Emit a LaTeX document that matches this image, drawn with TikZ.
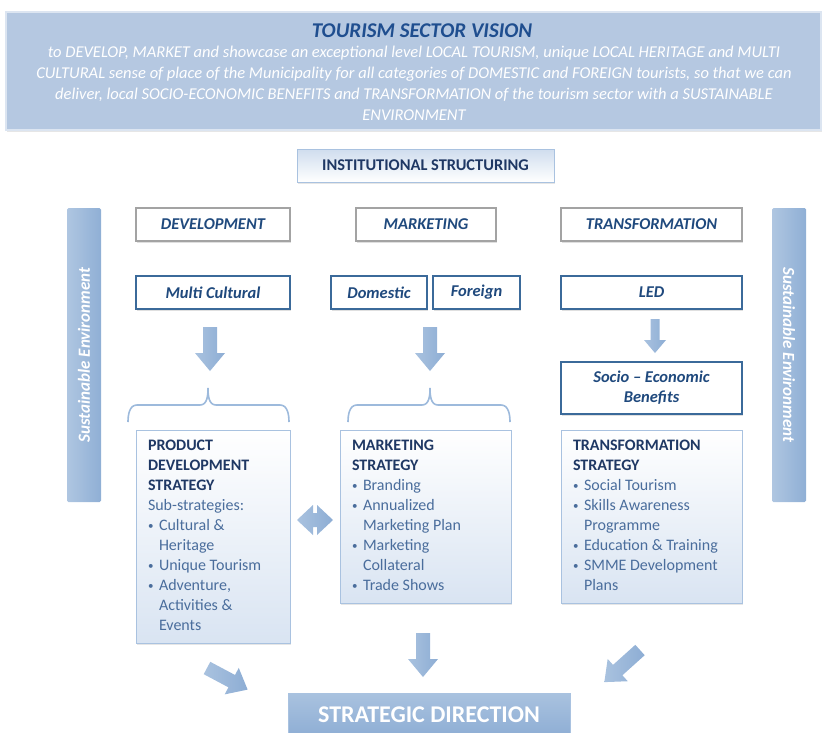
\documentclass[tikz,border=0pt]{standalone}
\usepackage{fontspec}
\setmainfont{Carlito}
\usetikzlibrary{shadows}
\definecolor{visfill}{HTML}{B5C8E1}
\definecolor{visedge}{HTML}{DCE5F1}
\definecolor{titleblue}{HTML}{1F4E8F}
\definecolor{lblue}{HTML}{1F497D}
\definecolor{hdrblue}{HTML}{1F3864}
\definecolor{itemblue}{HTML}{4A6D9C}
\definecolor{boxgrey}{HTML}{A3A3A3}
\definecolor{bordblue}{HTML}{3B6A9A}
\definecolor{lightedge}{HTML}{A9C2E0}
\definecolor{stratbot}{HTML}{D9E4F2}
\definecolor{sideA}{HTML}{AFC6E1}
\definecolor{sideB}{HTML}{8FAFD5}
\definecolor{arrA}{HTML}{A9C2DF}
\definecolor{arrB}{HTML}{8DADD4}
\definecolor{bracecol}{HTML}{9DBADC}
\newcommand\blt{\makebox[11pt][l]{\raisebox{1pt}{\fontsize{11}{11}\selectfont\textbullet}}}
\newcommand\ind{\hspace*{11pt}}
\tikzset{
  pics/barrow/.style args={#1/#2/#3/#4}{code={
    \shade[left color=arrA, right color=arrB]
      (0,-#2) -- (#1-#4,-#2) -- (#1-#4,-#3) -- (#1,0) -- (#1-#4,#3) -- (#1-#4,#2) -- (0,#2) -- cycle;
  }}
}
\begin{document}
\begin{tikzpicture}[x=1pt,y=-1pt,
  every node/.style={inner sep=0pt, outer sep=0pt},
  lblfont/.style={font=\fontsize{16.5}{20}\selectfont\bfseries\itshape, text=lblue},
  greybox/.style={lblfont, draw=boxgrey, line width=1.4pt, fill=white,
     drop shadow={opacity=0.25, shadow xshift=1pt, shadow yshift=-1.5pt}, anchor=north west},
  bluebox/.style={lblfont, draw=bordblue, line width=2.2pt, fill=white,
     drop shadow={opacity=0.25, shadow xshift=1pt, shadow yshift=-1.5pt}, anchor=north west},
  stratbox/.style={draw=lightedge, line width=1pt, top color=white, bottom color=stratbot,
     drop shadow={opacity=0.2, shadow xshift=1pt, shadow yshift=-1.5pt}, anchor=north west},
  strattext/.style={anchor=north west, align=left, font=\fontsize{16}{20}\selectfont, text=itemblue},
  sidebar/.style={left color=sideA, right color=sideB, rounded corners=1.5pt, anchor=north west},
  sidetext/.style={font=\fontsize{17}{20}\selectfont\bfseries\itshape, text=white},
  bracestyle/.style={draw=bracecol, line width=1.6pt},
]
\useasboundingbox (0,0) rectangle (825,732);

% Vision
\node[anchor=north west, minimum width=815pt, minimum height=118pt, fill=visfill,
      draw=visedge, line width=2pt, drop shadow={opacity=0.2, shadow xshift=1pt, shadow yshift=-1.5pt}] (vision) at (6,12) {};
\node[font=\fontsize{21}{24}\selectfont\bfseries\itshape, text=titleblue] (vtitle) at (422,31) {TOURISM SECTOR VISION};
\node[anchor=north, align=center, font=\fontsize{16.5}{21}\selectfont\itshape, text=white] (vbody) at (414,46)
 {to DEVELOP, MARKET and showcase an exceptional level LOCAL TOURISM, unique LOCAL HERITAGE and MULTI\\
  CULTURAL sense of place of the Municipality for all categories of DOMESTIC and FOREIGN tourists, so that we can\\
  deliver, local SOCIO-ECONOMIC BENEFITS and TRANSFORMATION of the tourism sector with a SUSTAINABLE\\
  ENVIRONMENT};

% Institutional structuring
\node[anchor=north west, minimum width=257pt, minimum height=33pt, draw=lightedge, line width=1pt,
      top color=stratbot!80!lightedge, bottom color=white, font=\fontsize{16.4}{18}\selectfont\bfseries, text=hdrblue,
      drop shadow={opacity=0.2, shadow xshift=1pt, shadow yshift=-1.5pt}] (inst) at (297,149) {INSTITUTIONAL STRUCTURING};

% Side bars
\node[sidebar, minimum width=34pt, minimum height=294pt] (sideL) at (67,208) {};
\node[sidetext, rotate=90] (sideLt) at (sideL.center) {Sustainable Environment};
\node[sidebar, minimum width=34pt, minimum height=294pt] (sideR) at (772,208) {};
\node[sidetext, rotate=-90] (sideRt) at (sideR.center) {Sustainable Environment};

% Pillars
\node[greybox, minimum width=154pt, minimum height=33pt] (dev) at (136,208) {DEVELOPMENT};
\node[greybox, minimum width=140pt, minimum height=33pt] (mkt) at (356,208) {MARKETING};
\node[greybox, minimum width=181pt, minimum height=33pt] (trf) at (561,208) {TRANSFORMATION};

\node[bluebox, minimum width=154pt, minimum height=33pt] (multi) at (136,276) {Multi Cultural};
\node[bluebox, minimum width=96pt, minimum height=33pt] (dom) at (331,276) {Domestic};
\node[bluebox, minimum width=87pt, minimum height=33pt] (for) at (433,276) {Foreign};
\node[bluebox, minimum width=181pt, minimum height=52pt, align=center] (socio) at (561,362) {Socio -- Economic\\Benefits};

\node[bluebox, minimum width=181pt, minimum height=33pt] (led) at (561,276) {LED};

% Down arrows
\coordinate (a1) at (210,327);
\coordinate (a2) at (430,327);
\coordinate (a3) at (655,319);
\pic[rotate=-90] at (a1) {barrow={44/7/15/18}};
\pic[rotate=-90] at (a2) {barrow={44/7/15/18}};
\pic[rotate=-90] at (a3) {barrow={34/4.5/11/13}};

% Braces
\draw[bracestyle] (128,422) to[out=90,in=180] (137,405) -- (200,405) to[out=0,in=-90] (208,388)
   to[out=-90,in=180] (216,405) -- (280,405) to[out=0,in=90] (289,422);
\draw[bracestyle] (348,422) to[out=90,in=180] (357,405) -- (422,405) to[out=0,in=-90] (430,388)
   to[out=-90,in=180] (438,405) -- (501,405) to[out=0,in=90] (510,422);

% Strategy boxes
\node[stratbox, minimum width=154pt, minimum height=213pt] (pds) at (136,430) {};
\node[strattext] (pdst) at (148,440)
 {{\color{hdrblue}\bfseries PRODUCT}\\{\color{hdrblue}\bfseries DEVELOPMENT}\\{\color{hdrblue}\bfseries STRATEGY}\\
  Sub-strategies:\\\blt Cultural \&\\\ind Heritage\\\blt Unique Tourism\\\blt Adventure,\\\ind Activities \&\\\ind Events};

\node[stratbox, minimum width=171pt, minimum height=173pt] (mks) at (340,430) {};
\node[strattext] (mkst) at (352,440)
 {{\color{hdrblue}\bfseries MARKETING}\\{\color{hdrblue}\bfseries STRATEGY}\\
  \blt Branding\\\blt Annualized\\\ind Marketing Plan\\\blt Marketing\\\ind Collateral\\\blt Trade Shows};

\node[stratbox, minimum width=181pt, minimum height=173pt] (trs) at (561,430) {};
\node[strattext] (trst) at (573,440)
 {{\color{hdrblue}\bfseries TRANSFORMATION}\\{\color{hdrblue}\bfseries STRATEGY}\\
  \blt Social Tourism\\\blt Skills Awareness\\\ind Programme\\\blt Education \& Training\\\blt SMME Development\\\ind Plans};

% Double arrow
\shade[left color=arrA, right color=arrB] (297,520) -- (313,505) -- (313,513) -- (317,513) -- (317,505) -- (333,520)
   -- (317,535) -- (317,527) -- (313,527) -- (313,535) -- cycle;

% Strategic direction
\node[anchor=north west, minimum width=282pt, minimum height=45pt, top color=arrA, bottom color=arrB,
      draw=lightedge, line width=0.8pt] (sd) at (288,693) {};
\node[font=\fontsize{24}{26}\selectfont\bfseries, text=white] (sdt) at (429,715) {STRATEGIC DIRECTION};

% Bottom arrows
\coordinate (b1) at (207,668);
\coordinate (b2) at (423,633);
\coordinate (b3) at (640,650);
\pic[rotate=-28] at (b1) {barrow={46/7/15/18}};
\pic[rotate=-90] at (b2) {barrow={44/7/15/18}};
\pic[rotate=-138] at (b3) {barrow={48/7/15/18}};
\end{tikzpicture}
\end{document}
